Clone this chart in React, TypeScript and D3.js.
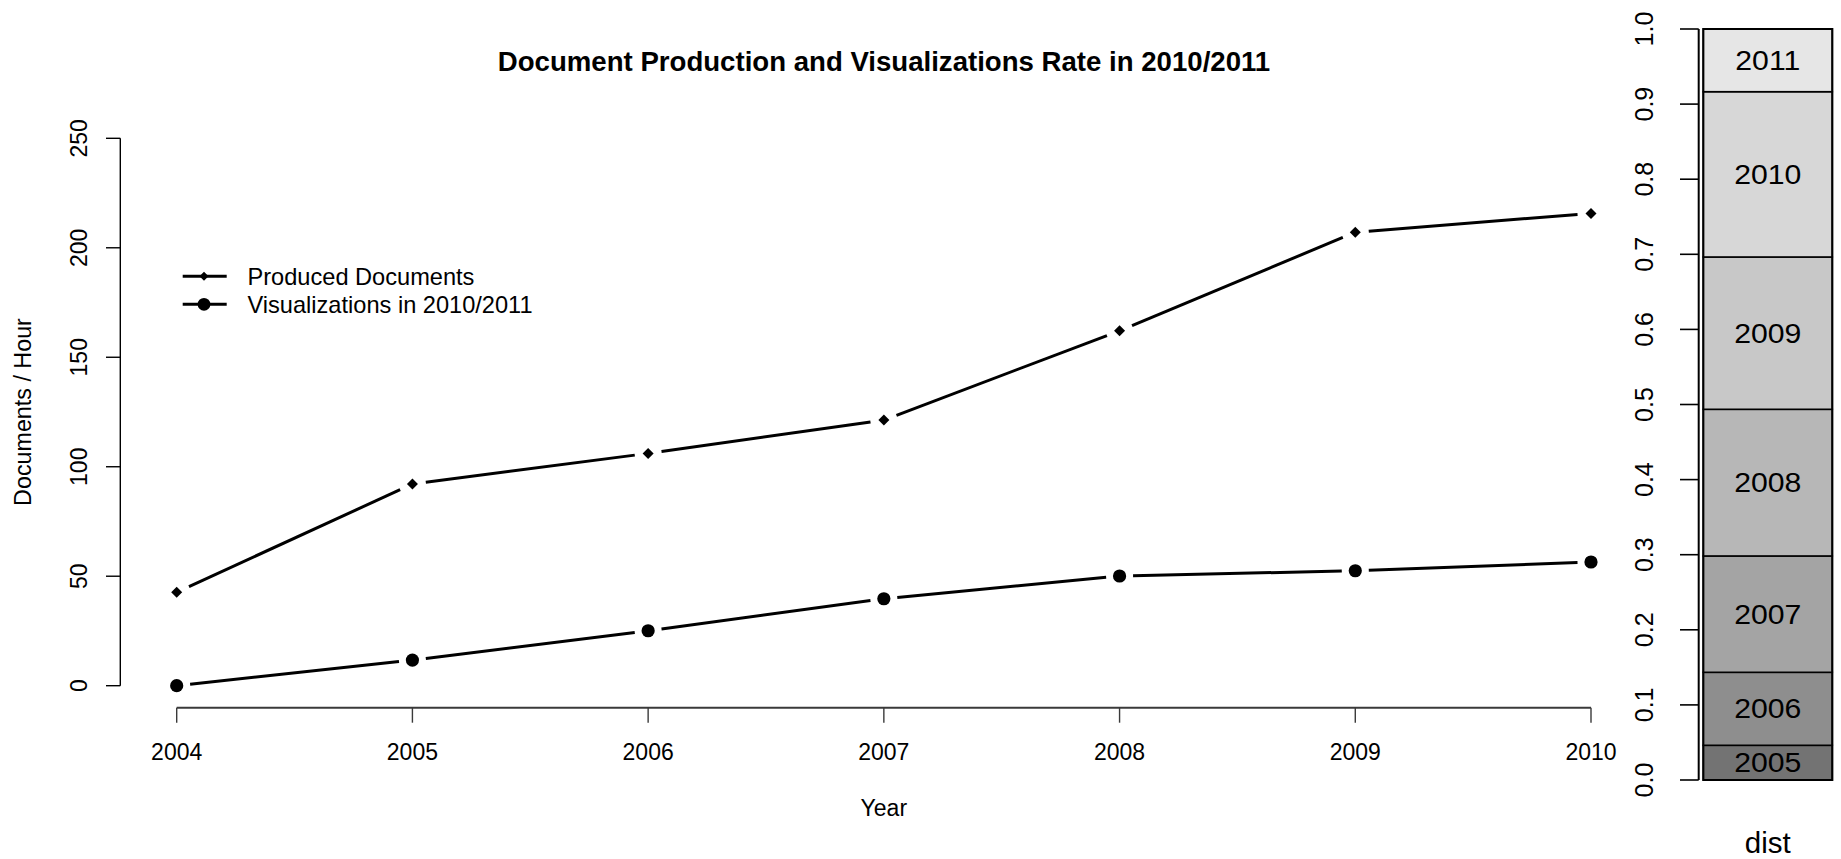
import React from "react";
import * as d3 from "d3";

// Years on the horizontal axis
const years = [2004, 2005, 2006, 2007, 2008, 2009, 2010];
// Produced documents per hour
const producedDocuments = [42.7, 92.1, 106.1, 121.3, 162.1, 207.1, 215.7];
// Visualizations in 2010/2011 per hour
const visualizations = [0, 11.7, 25.1, 39.7, 50.1, 52.5, 56.5];
const yTicks = [0, 50, 100, 150, 200, 250];

// Distribution bar: share of each year
const distYears = ["2005", "2006", "2007", "2008", "2009", "2010", "2011"];
const distShares = [0.0462, 0.0972, 0.1549, 0.1953, 0.2028, 0.2201, 0.0835];
const distColors = ["#737373", "#8E8E8E", "#A4A4A4", "#B7B7B7", "#C8C8C8", "#D7D7D7", "#E6E6E6"];
const distTicks = [0, 0.1, 0.2, 0.3, 0.4, 0.5, 0.6, 0.7, 0.8, 0.9, 1.0];

const W = 1841;
const H = 859;
const FONT = "'Liberation Sans', Arial, Helvetica, sans-serif";

const x = d3.scaleLinear().domain([2004, 2010]).range([176.7, 1591]);
const y = d3.scaleLinear().domain([0, 250]).range([685.7, 138.3]);
const yDist = d3.scaleLinear().domain([0, 1]).range([780, 29]);

const GAP = 13.5;

function gappedSegments(vals: number[]) {
  const pts = years.map((yr, i) => [x(yr), y(vals[i])] as [number, number]);
  const segs: [number, number, number, number][] = [];
  for (let i = 0; i < pts.length - 1; i++) {
    const [x1, y1] = pts[i];
    const [x2, y2] = pts[i + 1];
    const len = Math.hypot(x2 - x1, y2 - y1);
    const ux = (x2 - x1) / len;
    const uy = (y2 - y1) / len;
    segs.push([x1 + ux * GAP, y1 + uy * GAP, x2 - ux * GAP, y2 - uy * GAP]);
  }
  return segs;
}

function Diamond({ cx, cy, r }: { cx: number; cy: number; r: number }) {
  return (
    <path
      d={`M${cx},${cy - r}L${cx + r},${cy}L${cx},${cy + r}L${cx - r},${cy}Z`}
      fill="#000"
    />
  );
}

export default function App() {
  const prodSegs = gappedSegments(producedDocuments);
  const visSegs = gappedSegments(visualizations);

  const cum: number[] = [];
  distShares.reduce((acc, v) => {
    cum.push(acc);
    return acc + v;
  }, 0);

  const barX0 = 1703.3;
  const barX1 = 1832.3;
  const barCx = (barX0 + barX1) / 2;

  return (
    <svg
      width={W}
      height={H}
      style={{ position: "fixed", left: 0, top: 0, background: "#fff" }}
      fontFamily={FONT}
    >
      <rect x={0} y={0} width={W} height={H} fill="#fff" />

      {/* Title */}
      <text x={884} y={71} fontSize={27.6} fontWeight="bold" textAnchor="middle" fill="#000">
        Document Production and Visualizations Rate in 2010/2011
      </text>

      {/* Left y axis */}
      <line x1={120.3} x2={120.3} y1={y(0)} y2={y(250)} stroke="#000" strokeWidth={1.4} />
      {yTicks.map((t) => (
        <g key={t}>
          <line x1={106} x2={120.3} y1={y(t)} y2={y(t)} stroke="#000" strokeWidth={1.4} />
          <text
            transform={`translate(86.7,${y(t)}) rotate(-90)`}
            fontSize={23}
            textAnchor="middle"
            fill="#000"
          >
            {t}
          </text>
        </g>
      ))}
      <text
        transform={`translate(30.5,${(y(0) + y(250)) / 2}) rotate(-90)`}
        fontSize={23.3}
        textAnchor="middle"
        fill="#000"
      >
        Documents / Hour
      </text>

      {/* Bottom x axis */}
      <line x1={x(2004)} x2={x(2010)} y1={707.7} y2={707.7} stroke="#3a3a3a" strokeWidth={2} />
      {years.map((yr) => (
        <g key={yr}>
          <line x1={x(yr)} x2={x(yr)} y1={707.7} y2={722.7} stroke="#3a3a3a" strokeWidth={1.4} />
          <text x={x(yr)} y={759.5} fontSize={23} textAnchor="middle" fill="#000">
            {yr}
          </text>
        </g>
      ))}
      <text x={(x(2004) + x(2010)) / 2} y={816} fontSize={23} textAnchor="middle" fill="#000">
        Year
      </text>

      {/* Produced documents line */}
      {prodSegs.map((s, i) => (
        <line key={`p${i}`} x1={s[0]} y1={s[1]} x2={s[2]} y2={s[3]} stroke="#000" strokeWidth={3} />
      ))}
      {years.map((yr, i) => (
        <Diamond key={`pd${yr}`} cx={x(yr)} cy={y(producedDocuments[i])} r={5.5} />
      ))}

      {/* Visualizations line */}
      {visSegs.map((s, i) => (
        <line key={`v${i}`} x1={s[0]} y1={s[1]} x2={s[2]} y2={s[3]} stroke="#000" strokeWidth={3} />
      ))}
      {years.map((yr, i) => (
        <circle key={`vc${yr}`} cx={x(yr)} cy={y(visualizations[i])} r={6.6} fill="#000" />
      ))}

      {/* Legend */}
      <line x1={182.7} x2={226.7} y1={276.3} y2={276.3} stroke="#000" strokeWidth={3} />
      <Diamond cx={204} cy={276.3} r={4.5} />
      <text x={247.5} y={284.7} fontSize={23.6} fill="#000">
        Produced Documents
      </text>
      <line x1={182.7} x2={226.7} y1={304.3} y2={304.3} stroke="#000" strokeWidth={3} />
      <circle cx={204} cy={304.3} r={6.4} fill="#000" />
      <text x={247.5} y={312.7} fontSize={23.6} fill="#000">
        Visualizations in 2010/2011
      </text>

      {/* Distribution bar axis */}
      <line x1={1698.7} x2={1698.7} y1={yDist(0)} y2={yDist(1)} stroke="#000" strokeWidth={2} />
      {distTicks.map((t) => (
        <g key={t}>
          <line x1={1680} x2={1698.7} y1={yDist(t)} y2={yDist(t)} stroke="#000" strokeWidth={1.6} />
          <text
            transform={`translate(1653.3,${yDist(t)}) rotate(-90)`}
            fontSize={25}
            textAnchor="middle"
            fill="#000"
          >
            {t.toFixed(1)}
          </text>
        </g>
      ))}

      {/* Distribution bar segments */}
      {distShares.map((v, i) => {
        const top = yDist(cum[i] + v);
        const bottom = yDist(cum[i]);
        const mid = (top + bottom) / 2;
        return (
          <g key={distYears[i]}>
            <rect
              x={barX0}
              y={top}
              width={barX1 - barX0}
              height={bottom - top}
              fill={distColors[i]}
              stroke="#000"
              strokeWidth={1.6}
            />
            <text
              transform={`translate(${barCx},${mid + 9.6}) scale(1.12,1)`}
              fontSize={27}
              textAnchor="middle"
              fill="#000"
            >
              {distYears[i]}
            </text>
          </g>
        );
      })}
      <rect
        x={barX0}
        y={yDist(1)}
        width={barX1 - barX0}
        height={yDist(0) - yDist(1)}
        fill="none"
        stroke="#000"
        strokeWidth={2}
      />
      <text x={barCx} y={852.5} fontSize={29.5} textAnchor="middle" fill="#000">
        dist
      </text>
    </svg>
  );
}
